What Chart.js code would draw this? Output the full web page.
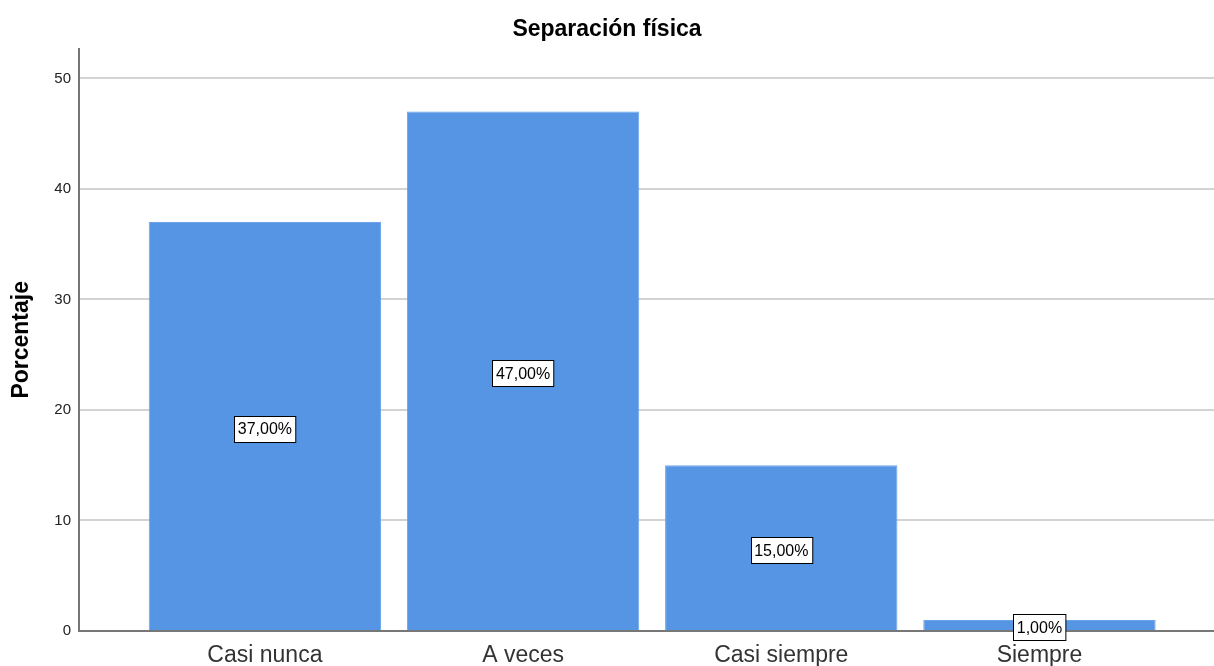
<!DOCTYPE html>
<html>
<head>
<meta charset="utf-8">
<script src="https://cdn.jsdelivr.net/npm/chart.js@4.4.1/dist/chart.umd.min.js"></script>
<style>
  html, body { margin: 0; padding: 0; background: #fff; }
  #wrap { width: 1214px; height: 666px; }
</style>
</head>
<body>
<div id="wrap"><canvas id="chart" width="1214" height="666"></canvas></div>
<script>
const categories = ['Casi nunca', 'A veces', 'Casi siempre', 'Siempre']
const percentages = [37, 47, 15, 1]
const yTicks = [0, 10, 20, 30, 40, 50]

const FONT = 'Arial, "Liberation Sans", sans-serif'
const barColor = '#5595e3'

// etiquetas tipo SPSS: caja blanca con borde negro en el centro de cada barra
const valueLabels = {
  id: 'valueLabels',
  afterDatasetsDraw(chart) {
    const { ctx } = chart
    const yScale = chart.scales.y
    const meta = chart.getDatasetMeta(0)
    ctx.save()
    ctx.font = '16px ' + FONT
    ctx.textAlign = 'center'
    ctx.textBaseline = 'middle'
    meta.data.forEach((bar, i) => {
      const v = percentages[i]
      const text = v.toFixed(2).replace('.', ',') + '%'
      const cy = yScale.getPixelForValue(v / 2) + 2
      const w = ctx.measureText(text).width + 7
      const h = 26
      const x0 = Math.round(bar.x - w / 2) + 0.5
      const y0 = Math.round(cy - h / 2) + 0.5
      ctx.fillStyle = '#fff'
      ctx.fillRect(x0, y0, w, h)
      ctx.strokeStyle = '#000'
      ctx.lineWidth = 1
      ctx.strokeRect(x0, y0, w, h)
      ctx.fillStyle = '#000'
      ctx.fillText(text, bar.x, cy + 1)
    })
    ctx.restore()
  },
}

new Chart(document.getElementById('chart'), {
  type: 'bar',
  data: {
    datasets: [
      {
        label: 'Porcentaje',
        data: percentages.map((v, i) => ({ x: i, y: v })),
        backgroundColor: barColor,
        borderColor: '#6aa3e8',
        borderWidth: 1,
        barPercentage: 0.9,
        categoryPercentage: 1,
      },
    ],
  },
  options: {
    responsive: false,
    animation: false,
    layout: { padding: { left: 0, right: 0, top: 0, bottom: 0 } },
    plugins: {
      legend: { display: false },
      tooltip: { enabled: false },
      title: {
        display: true,
        text: 'Separación física',
        color: '#000',
        font: { family: FONT, size: 23, weight: 'bold' },
        padding: { top: 16, bottom: 5 },
      },
    },
    scales: {
      x: {
        type: 'linear',
        offset: false,
        min: -0.72,
        max: 3.676,
        afterBuildTicks: (axis) => {
          axis.ticks = categories.map((c, i) => ({ value: i }))
        },
        afterFit: (axis) => {
          axis.height = 35
        },
        grid: { display: false, drawTicks: false },
        border: { display: true, color: '#777', width: 2 },
        ticks: {
          autoSkip: false,
          maxRotation: 0,
          padding: 11,
          color: '#333',
          font: { family: FONT, size: 23 },
          callback: (v) => categories[v] ?? '',
        },
      },
      y: {
        min: 0,
        max: 52.7,
        afterBuildTicks: (axis) => {
          axis.ticks = yTicks.map((v) => ({ value: v }))
        },
        afterFit: (axis) => {
          axis.width = 79
        },
        grid: { color: '#d3d3d3', lineWidth: 2, drawTicks: false },
        border: { display: true, color: '#777', width: 2 },
        ticks: {
          padding: 8,
          color: '#222',
          font: { family: FONT, size: 15 },
        },
        title: {
          display: true,
          text: 'Porcentaje',
          color: '#000',
          font: { family: FONT, size: 23, weight: 'bold' },
          padding: { top: 8, bottom: 0 },
        },
      },
    },
  },
  plugins: [valueLabels],
})
</script>
</body>
</html>
